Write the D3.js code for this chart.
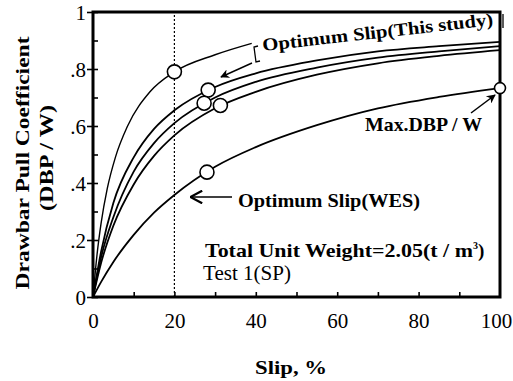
<!DOCTYPE html>
<html>
<head>
<meta charset="utf-8">
<script src="https://cdn.jsdelivr.net/npm/d3@7"></script>
<style>
  body { margin: 0; background: #fff; }
  text { font-family: "Liberation Serif", "Times New Roman", serif; fill: #000; }
</style>
</head>
<body>
<svg id="chart" width="513" height="381"></svg>
<script>
// Values: slip (%) vs drawbar pull coefficient.
var xTicks = [0, 20, 40, 60, 80, 100];
var yTicks = [0, 0.2, 0.4, 0.6, 0.8, 1];
var yTickLabels = ["0", ".2", ".4", ".6", ".8", "1"];

var slipTop = [0, 1, 2, 3.5, 5.5, 8.5, 14, 20, 30, 39];
var dbpTop  = [0, 0.15, 0.26, 0.38, 0.49, 0.6, 0.72, 0.79, 0.85, 0.89];

var slipGrid = [0, 2, 5, 10, 15, 20, 30, 40, 55, 70, 85, 100];
var dbpA   = [0, 0.16, 0.33, 0.49, 0.59, 0.655, 0.737, 0.785, 0.83, 0.862, 0.88, 0.895];
var dbpB   = [0, 0.14, 0.28, 0.44, 0.54, 0.61, 0.70, 0.755, 0.805, 0.84, 0.862, 0.88];
var dbpC   = [0, 0.12, 0.25, 0.395, 0.495, 0.567, 0.662, 0.72, 0.78, 0.82, 0.846, 0.866];
var dbpWES = [0, 0.053, 0.123, 0.218, 0.296, 0.358, 0.457, 0.526, 0.603, 0.662, 0.702, 0.733];

var optSlip = [20, 28.3, 27.3, 31.3, 28, 100];
var optDbp  = [0.79, 0.726, 0.68, 0.672, 0.438, 0.733];

var serif = '"Liberation Serif", "Times New Roman", serif';

// Scales.
var x = d3.scaleLinear().domain([0, 100]).range([93, 500]);
var y = d3.scaleLinear().domain([0, 1]).range([297, 12]);

var svg = d3.select("#chart");

// Arrow heads.
var defs = svg.append("defs");
defs.append("marker").attr("id", "headFill")
    .attr("viewBox", "0 0 10 10").attr("refX", 9).attr("refY", 5)
    .attr("markerWidth", 12).attr("markerHeight", 9).attr("markerUnits", "userSpaceOnUse")
    .attr("orient", "auto")
  .append("path").attr("d", "M0,0 L10,5 L0,10 L3,5 Z").attr("fill", "#000");
defs.append("marker").attr("id", "headOpen")
    .attr("viewBox", "0 0 10 10").attr("refX", 9).attr("refY", 5)
    .attr("markerWidth", 14).attr("markerHeight", 14).attr("markerUnits", "userSpaceOnUse")
    .attr("orient", "auto")
  .append("path").attr("d", "M1,0.5 L9.5,5 L1,9.5").attr("fill", "none")
    .attr("stroke", "#000").attr("stroke-width", 1.6);

// Dotted line at 20 % slip.
svg.append("line")
    .attr("x1", x(20)).attr("x2", x(20)).attr("y1", y(0)).attr("y2", y(1))
    .attr("stroke", "#000").attr("stroke-width", 1.2).attr("stroke-dasharray", "2,2");

// Ticks: majors cross the axis, all tenths point inward.
var yAxisOut = svg.append("g").attr("transform", "translate(" + x(0) + ",0)")
    .call(d3.axisLeft(y).tickValues(yTicks).tickSize(6).tickPadding(1)
      .tickFormat(function(d, i){ return yTickLabels[i]; }));
var yAxisIn = svg.append("g").attr("transform", "translate(" + x(0) + ",0)")
    .call(d3.axisLeft(y).tickValues(d3.range(0, 1.01, 0.1)).tickSize(-5).tickFormat(""));
var xAxisIn = svg.append("g").attr("transform", "translate(0," + y(0) + ")")
    .call(d3.axisBottom(x).tickValues(d3.range(10, 100, 10)).tickSize(-5).tickFormat(""));
var xAxisLab = svg.append("g").attr("transform", "translate(0," + y(0) + ")")
    .call(d3.axisBottom(x).tickValues(xTicks).tickSize(0).tickPadding(31));

[yAxisOut, yAxisIn, xAxisIn, xAxisLab].forEach(function(g){
  g.attr("font-family", serif);
  g.select(".domain").remove();
  g.selectAll("line").attr("stroke", "#000").attr("stroke-width", 1.6);
  g.selectAll("text").style("font-family", serif).style("font-size", "21px").attr("fill", "#000");
});
yAxisOut.selectAll("text").attr("dy", "0.34em");
xAxisLab.selectAll("text").attr("dy", "0")
    .attr("dx", function(d){ return d == 100 ? -4 : 0; });

// Frame.
svg.append("rect")
    .attr("x", x(0)).attr("y", y(1)).attr("width", x(100) - x(0)).attr("height", y(0) - y(1))
    .attr("fill", "none").attr("stroke", "#000").attr("stroke-width", 3);

// Curves.
var line = d3.line().x(function(d){ return x(d[0]); }).y(function(d){ return y(d[1]); })
    .curve(d3.curveMonotoneX);
var series = [
  {slip: slipTop, dbp: dbpTop, w: 1.4},
  {slip: slipGrid, dbp: dbpA, w: 1.8},
  {slip: slipGrid, dbp: dbpB, w: 1.8},
  {slip: slipGrid, dbp: dbpC, w: 1.8},
  {slip: slipGrid, dbp: dbpWES, w: 1.8}
];
svg.append("g").selectAll("path").data(series).join("path")
    .attr("d", function(s){ return line(d3.zip(s.slip, s.dbp)); })
    .attr("fill", "none").attr("stroke", "#000").attr("stroke-width", function(s){ return s.w; });

// Optimum / max points.
svg.append("g").selectAll("circle").data(d3.zip(optSlip, optDbp)).join("circle")
    .attr("cx", function(d){ return x(d[0]); }).attr("cy", function(d){ return y(d[1]); })
    .attr("r", function(d, i){ return i == 5 ? 5.5 : 7; })
    .attr("fill", "#fff").attr("stroke", "#000").attr("stroke-width", 1.6);

// Annotations.
function label(x0, y0, txt, size, len, weight){
  return svg.append("text").attr("x", x0).attr("y", y0)
      .style("font-size", size + "px").style("font-weight", weight || "bold")
      .attr("textLength", len).attr("lengthAdjust", "spacingAndGlyphs")
      .text(txt);
}

svg.append("text").attr("transform", "translate(263,51) rotate(-6.4)")
    .style("font-size", "18px").style("font-weight", "bold")
    .attr("textLength", 232).attr("lengthAdjust", "spacingAndGlyphs")
    .text("Optimum Slip(This study)");
svg.append("path").attr("d", "M258,46 L254,47 L256,62 L260,61").attr("fill", "none").attr("stroke", "#000").attr("stroke-width", 1.3);
svg.append("line").attr("x1", 503).attr("x2", 503).attr("y1", 14).attr("y2", 28).attr("stroke", "#000").attr("stroke-width", 1.3);
svg.append("line").attr("x1", 252).attr("y1", 63).attr("x2", 221).attr("y2", 77)
    .attr("stroke", "#000").attr("stroke-width", 1.4).attr("marker-end", "url(#headFill)");

label(365, 131, "Max.DBP / W", 19, 117);
svg.append("line").attr("x1", 471).attr("y1", 113).attr("x2", 495).attr("y2", 95)
    .attr("stroke", "#000").attr("stroke-width", 1.5).attr("marker-end", "url(#headFill)");

svg.append("line").attr("x1", 232).attr("y1", 197).attr("x2", 191).attr("y2", 197)
    .attr("stroke", "#000").attr("stroke-width", 1.5).attr("marker-end", "url(#headOpen)");
label(238, 207, "Optimum Slip(WES)", 19, 182);

var tw = svg.append("text").attr("x", 205).attr("y", 257)
    .style("font-size", "19px").style("font-weight", "bold");
tw.append("tspan").attr("textLength", 268).attr("lengthAdjust", "spacingAndGlyphs")
    .text("Total Unit Weight=2.05(t / m");
tw.append("tspan").attr("dy", -8).style("font-size", "10px").text("3");
tw.append("tspan").attr("dy", 8).text(")");
label(203, 280, "Test 1(SP)", 20, 88, "normal");

// Axis titles.
svg.append("text").attr("transform", "translate(29,163) rotate(-90)")
    .attr("text-anchor", "middle").style("font-size", "19px").style("font-weight", "bold")
    .attr("textLength", 253).attr("lengthAdjust", "spacingAndGlyphs")
    .text("Drawbar Pull Coefficient");
svg.append("text").attr("transform", "translate(53,158) rotate(-90)")
    .attr("text-anchor", "middle").style("font-size", "19px").style("font-weight", "bold")
    .attr("textLength", 106).attr("lengthAdjust", "spacingAndGlyphs")
    .text("(DBP / W)");
svg.append("text").attr("x", 291).attr("y", 374)
    .attr("text-anchor", "middle").style("font-size", "19px").style("font-weight", "bold")
    .attr("textLength", 72).attr("lengthAdjust", "spacingAndGlyphs")
    .text("Slip, %");
</script>
</body>
</html>
